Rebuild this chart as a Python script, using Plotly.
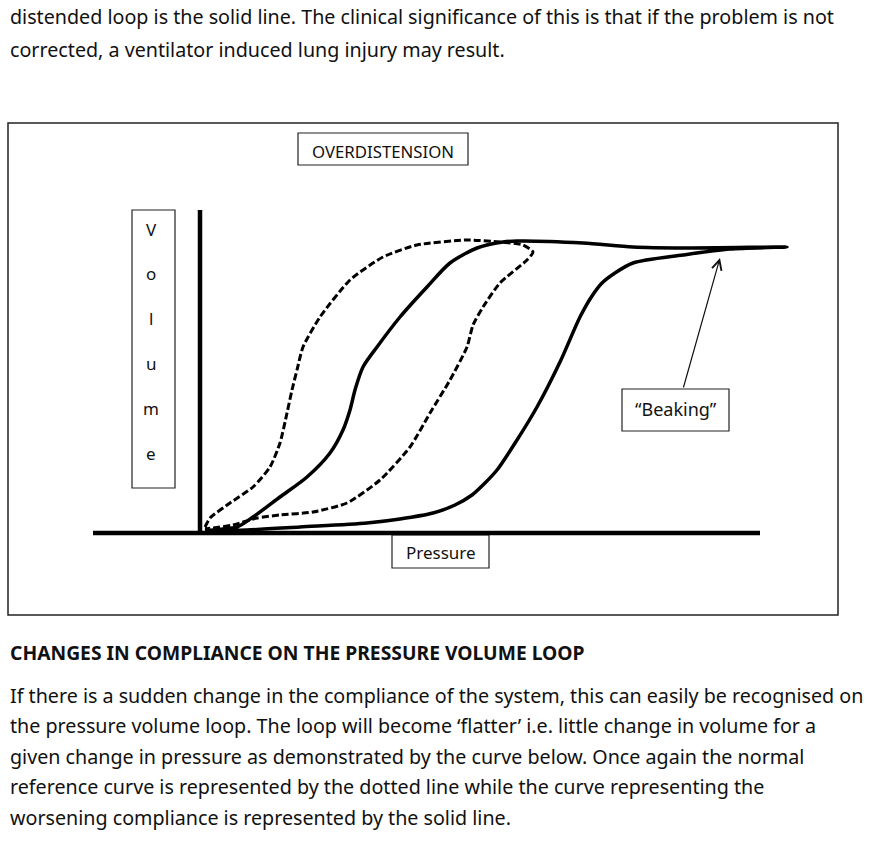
import plotly.graph_objects as go

W, H = 871, 844
FONT = "Noto Sans"

# ---- data (pressure, volume in arbitrary units; 1 unit = 10 px on the scan) ----
normal_pressure = [0.5, 1.0, 3.0, 5.3, 7.0, 8.0, 8.7, 9.2, 9.7, 10.3, 12.0, 15.0, 18.3, 21.7,
                   26.7, 30.0, 32.3, 33.3, 32.7, 30.0, 28.3, 27.3, 26.7, 25.0, 23.0, 21.0,
                   18.0, 14.7, 11.3, 8.0, 5.7, 3.3, 1.3, 0.5]
normal_volume = [0.6, 1.5, 3.0, 4.6, 6.6, 9.0, 12.0, 14.3, 16.3, 18.6, 21.6, 25.3, 27.6, 28.8,
                 29.3, 29.1, 28.8, 28.1, 27.3, 25.0, 22.6, 20.8, 18.6, 15.3, 12.0, 8.6,
                 5.3, 3.0, 2.1, 1.8, 1.5, 0.8, 0.5, 0.4]

over_pressure = [0.5, 1.3, 3.7, 5.3, 8.0, 10.7, 13.0, 14.3, 15.0, 15.5, 16.3, 17.7, 20.0,
                 22.7, 25.0, 27.7, 30.3, 31.7, 38.3, 43.3, 48.3, 58.7,
                 53.0, 48.3, 43.3, 41.5, 40.2, 39.2, 38.0, 36.0, 33.7, 31.7, 29.7, 28.5, 27.2,
                 25.5, 23.3, 20.0, 16.7, 10.0, 4.7, 0.7]
over_volume = [0.2, 0.3, 0.6, 1.6, 3.6, 5.6, 8.0, 10.3, 12.3, 14.3, 16.6, 18.6, 21.6,
               24.6, 27.0, 28.5, 29.1, 29.2, 29.0, 28.6, 28.5, 28.6,
               28.4, 27.8, 27.0, 26.0, 25.0, 23.7, 21.6, 17.1, 12.6, 9.3, 6.3, 5.0, 3.8,
               2.8, 2.0, 1.4, 1.0, 0.6, 0.3, 0.2]

page_lines_top = [
    "distended loop is the solid line. The clinical significance of this is that if the problem is not",
    "corrected, a ventilator induced lung injury may result.",
]
heading = "CHANGES IN COMPLIANCE ON THE PRESSURE VOLUME LOOP"
page_lines_bottom = [
    "If there is a sudden change in the compliance of the system, this can easily be recognised on",
    "the pressure volume loop. The loop will become ‘flatter’ i.e. little change in volume for a",
    "given change in pressure as demonstrated by the curve below. Once again the normal",
    "reference curve is represented by the dotted line while the curve representing the",
    "worsening compliance is represented by the solid line.",
]
volume_letters = ["V", "o", "l", "u", "m", "e"]

# ---- figure ----
X0, Y0, S = 200, 533, 10  # axis origin on the page and px per unit


def ux(px):
    return (px - X0) / S


def uy(py):
    return (Y0 - py) / S


fig = go.Figure()
fig.add_trace(go.Scatter(x=normal_pressure, y=normal_volume, mode="lines",
                         line=dict(color="black", width=3, dash="7px,3px", shape="spline",
                                   smoothing=0.6),
                         name="Normal", hoverinfo="skip"))
fig.add_trace(go.Scatter(x=over_pressure, y=over_volume, mode="lines",
                         line=dict(color="black", width=3.5, shape="spline", smoothing=0.8),
                         name="Overdistension", hoverinfo="skip"))

shapes = []
# outer frame
shapes.append(dict(type="rect", xref="x", yref="y", x0=ux(8), x1=ux(838), y0=uy(123), y1=uy(615),
                   line=dict(color="#222", width=1.5)))
# axes
shapes.append(dict(type="line", xref="x", yref="y", x0=ux(93), x1=ux(760), y0=uy(533), y1=uy(533),
                   line=dict(color="black", width=4.5)))
shapes.append(dict(type="line", xref="x", yref="y", x0=ux(200), x1=ux(200), y0=uy(210), y1=uy(535),
                   line=dict(color="black", width=4.5)))
# label boxes
for (a, b, c, d) in [(298, 133, 468, 165), (132, 210, 175, 488), (392, 535, 489, 568),
                     (622, 389, 729, 431)]:
    shapes.append(dict(type="rect", xref="x", yref="y", x0=ux(a), x1=ux(c), y0=uy(b), y1=uy(d),
                       line=dict(color="#222", width=1.2), fillcolor="white", layer="below"))

ann = []


def text(px, py, s, size=16, anchor="left", bold=False):
    ann.append(dict(x=ux(px), y=uy(py), xref="x", yref="y", text=("<b>%s</b>" % s) if bold else s,
                    showarrow=False, xanchor=anchor, yanchor="middle",
                    font=dict(family=FONT, size=size, color="#111")))


for i, s in enumerate(page_lines_top):
    text(8, 16 + 33 * i, s, size=19.7)
text(8, 652, heading, size=19.3, bold=True)
for i, s in enumerate(page_lines_bottom):
    text(8, 695 + 30.5 * i, s, size=19.7)

text(383, 151, "OVERDISTENSION", size=16.8, anchor="center")
text(441, 552, "Pressure", size=17, anchor="center")
text(676, 409, "“Beaking”", size=18, anchor="center")
for i, s in enumerate(volume_letters):
    text(151, 229 + 44.8 * i, s, size=17, anchor="center")

# arrow to the beak
ann.append(dict(x=ux(720), y=uy(258), ax=ux(683), ay=uy(389), xref="x", yref="y", axref="x",
                ayref="y", showarrow=True, arrowhead=5, arrowsize=1.6, arrowwidth=1.2,
                arrowcolor="#111", text=""))

fig.update_layout(
    width=W, height=H, margin=dict(l=0, r=0, t=0, b=0),
    paper_bgcolor="white", plot_bgcolor="white", showlegend=False,
    shapes=shapes, annotations=ann,
    xaxis=dict(range=[ux(0), ux(W)], visible=False, fixedrange=True),
    yaxis=dict(range=[uy(H), uy(0)], visible=False, fixedrange=True),
)
fig.write_html("out.html")
